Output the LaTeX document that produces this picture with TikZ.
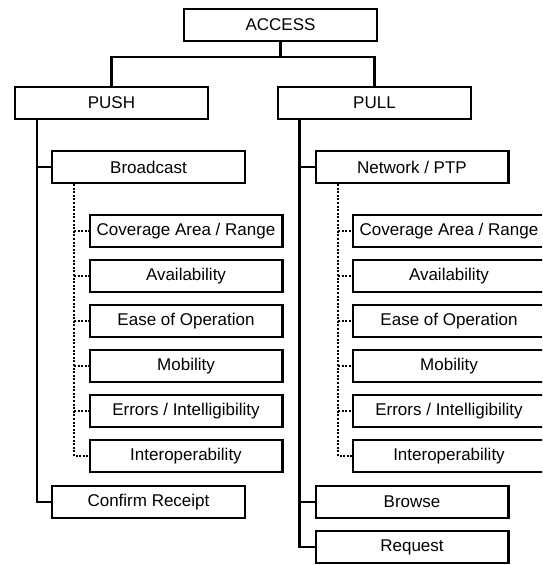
\documentclass[tikz,border=0pt]{standalone}
\usepackage{fontspec}
\setmainfont{Liberation Sans}
\begin{document}
\begin{tikzpicture}[x=1pt,y=-1pt,
  box/.style={draw,line width=2.4pt,minimum height=31.6pt,inner sep=0pt,
    font=\fontsize{17}{20}\selectfont},
  wide/.style={box,minimum width=192.6pt},
  solidline/.style={line width=2.4pt},
  dotline/.style={line width=2.4pt,dash pattern=on 2pt off 1.6pt}]
\useasboundingbox (0,0) rectangle (542,565);
\clip (0,0) rectangle (542,565);

% top level
\node[wide] (access) at (280.5,25) {ACCESS};
\node[wide] (push) at (111.5,103) {PUSH};
\node[wide] (pull) at (374.5,103) {PULL};

% push side
\node[wide] (broadcast) at (148.5,167) {Broadcast};
\node[wide] (lcov)  at (186,231) {Coverage Area / Range};
\node[wide] (lavail) at (186,276) {Availability};
\node[wide] (lease) at (186,321) {Ease of Operation};
\node[wide] (lmob)  at (186,366) {Mobility};
\node[wide] (lerr)  at (186,411) {Errors / Intelligibility};
\node[wide] (lint)  at (186,456) {Interoperability};
\node[wide] (confirm) at (148.5,502) {Confirm Receipt};

% pull side
\node[wide] (network) at (412,167) {Network / PTP};
\node[wide] (rcov)  at (449,231) {Coverage Area / Range};
\node[wide] (ravail) at (449,276) {Availability};
\node[wide] (rease) at (449,321) {Ease of Operation};
\node[wide] (rmob)  at (449,366) {Mobility};
\node[wide] (rerr)  at (449,411) {Errors / Intelligibility};
\node[wide] (rint)  at (449,456) {Interoperability};
\node[wide] (browse) at (412,502) {Browse};
\node[wide] (request) at (412,547) {Request};

% helper positions for trunks and bus
\coordinate (bus) at (0,57);
\coordinate (ltrunk) at (37,0);
\coordinate (rtrunk) at (299.5,0);
\coordinate (ldot) at (74,0);
\coordinate (rdot) at (338,0);

% bus from ACCESS to PUSH / PULL
\draw[solidline] (access.south) -- (access.south |- bus);
\draw[solidline] (push.north) |- (bus -| pull.north) -- (pull.north);

% push trunk
\draw[solidline] (ltrunk |- push.south) |- (confirm.west);
\draw[solidline] (ltrunk |- broadcast.west) -- (broadcast.west);

% pull trunk
\draw[solidline] (rtrunk |- pull.south) |- (request.west);
\draw[solidline] (rtrunk |- network.west) -- (network.west);
\draw[solidline] (rtrunk |- browse.west) -- (browse.west);

% dotted attribute branches, push side
\draw[dotline] (ldot |- broadcast.south) |- (lint.west);
\foreach \n in {lcov,lavail,lease,lmob,lerr}
  \draw[dotline] (ldot |- \n.west) -- (\n.west);

% dotted attribute branches, pull side
\draw[dotline] (rdot |- network.south) |- (rint.west);
\foreach \n in {rcov,ravail,rease,rmob,rerr}
  \draw[dotline] (rdot |- \n.west) -- (\n.west);
\end{tikzpicture}
\end{document}
